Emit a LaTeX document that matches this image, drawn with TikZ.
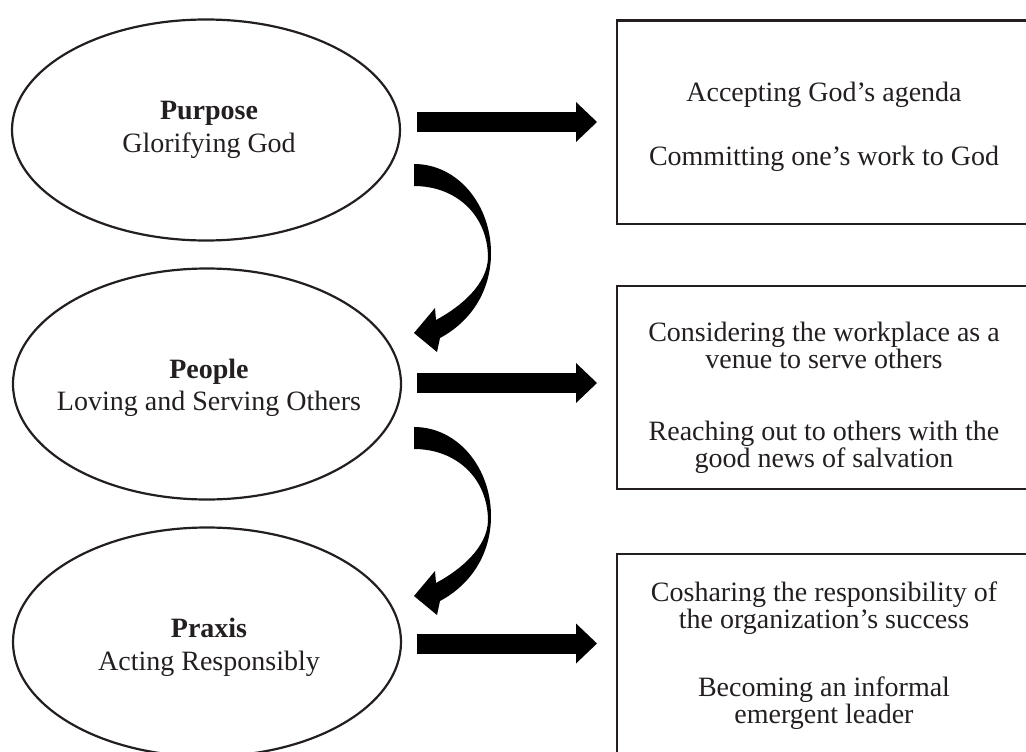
\documentclass[tikz,border=0pt]{standalone}
\usepackage{fontspec}
\setmainfont{Liberation Serif}
\usetikzlibrary{shapes.geometric,arrows.meta}
\definecolor{ink}{RGB}{35,31,32}
\begin{document}
\begin{tikzpicture}[x=1pt,y=-1pt,
  oval/.style={ellipse, draw=ink, line width=2.2pt, minimum width=#1, inner sep=0pt},
  oval/.default=388pt,
  rbox/.style={draw=ink, line width=2.2pt, rectangle, anchor=north west, minimum width=416pt, inner sep=0pt},
  lbl/.style={anchor=base, inner sep=0pt, text=ink, font=\fontsize{28pt}{31pt}\selectfont},
  blbl/.style={lbl, font=\fontsize{28pt}{31pt}\selectfont\bfseries},
  blockarrow/.style={line width=20pt, black, -{Triangle[length=21pt,width=40pt,line width=0pt]}},
  curvarrow/.pic={\fill[black] (0,0) .. controls (44,0) and (77,41) .. (77,89)
      .. controls (77,128) and (56,158) .. (26,174) -- (23,188) -- (0,169) -- (21,144) -- (22,156)
      .. controls (48,142) and (73,120) .. (74,94) .. controls (74,51) and (42,22) .. (0,22) -- cycle;}
]
\useasboundingbox (0,0) rectangle (1026,752);
\clip (0,0) rectangle (1026,752);

% ellipses
\node[oval, minimum height=221pt] (e1) at (206,130) {};
\node[oval, minimum height=231pt] (e2) at (207,384) {};
\node[oval, minimum height=229pt] (e3) at (207,642) {};

\node[blbl] (e1a) at (209,120) {Purpose};
\node[lbl]  (e1b) at (209,152) {Glorifying God};
\node[blbl] (e2a) at (209,378) {People};
\node[lbl]  (e2b) at (209,410) {Loving and Serving Others};
\node[blbl] (e3a) at (209,637) {Praxis};
\node[lbl]  (e3b) at (209,670) {Acting Responsibly};

% boxes
\node[rbox, minimum height=203pt] (b1) at (616,19.5) {};
\node[rbox, minimum height=203.5pt] (b2) at (616,284.5) {};
\node[rbox, minimum height=260pt] (b3) at (616,553) {};

\node[lbl] (b1a) at (824,101) {Accepting God’s agenda};
\node[lbl] (b1b) at (824,165) {Committing one’s work to God};
\node[lbl] (b2a) at (824,341) {Considering the workplace as a};
\node[lbl] (b2b) at (824,368) {venue to serve others};
\node[lbl] (b2c) at (824,440) {Reaching out to others with the};
\node[lbl] (b2d) at (824,467) {good news of salvation};
\node[lbl] (b3a) at (824,601) {Cosharing the responsibility of};
\node[lbl] (b3b) at (824,628) {the organization’s success};
\node[lbl] (b3c) at (824,696) {Becoming an informal};
\node[lbl] (b3d) at (824,723) {emergent leader};

% straight block arrows
\coordinate (a1s) at (417,122);   \coordinate (a1e) at (597,122);
\coordinate (a2s) at (417,383);   \coordinate (a2e) at (597,383);
\coordinate (a3s) at (417,643.5); \coordinate (a3e) at (597,643.5);
\draw[blockarrow] (a1s) -- (a1e);
\draw[blockarrow] (a2s) -- (a2e);
\draw[blockarrow] (a3s) -- (a3e);

% curved arrows
\coordinate (c1) at (414,164);
\coordinate (c2) at (414,427);
\pic at (c1) {curvarrow};
\pic at (c2) {curvarrow};
\end{tikzpicture}
\end{document}
